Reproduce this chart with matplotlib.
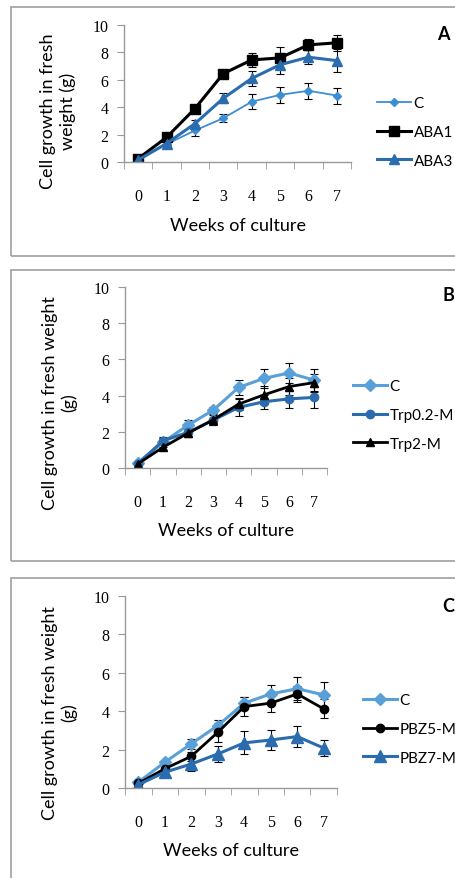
import numpy as np
import matplotlib
matplotlib.use("Agg")
import matplotlib.pyplot as plt
from matplotlib.patches import Rectangle

W, H = 456, 879

weeks = [0, 1, 2, 3, 4, 5, 6, 7]

# panel A
a_c = [0.15, 1.3, 2.3, 3.2, 4.4, 4.9, 5.2, 4.85]
a_c_err = [0.1, 0.15, 0.4, 0.27, 0.55, 0.58, 0.6, 0.58]
a_aba1 = [0.25, 1.8, 3.9, 6.45, 7.45, 7.6, 8.55, 8.7]
a_aba1_err = [0.1, 0.12, 0.2, 0.3, 0.5, 0.77, 0.4, 0.6]
a_aba3 = [0.15, 1.35, 2.8, 4.65, 6.1, 7.1, 7.65, 7.4]
a_aba3_err = [0.05, 0.12, 0.3, 0.37, 0.55, 0.7, 0.5, 0.85]

# panel B
b_c = [0.28, 1.42, 2.37, 3.2, 4.45, 4.95, 5.25, 4.85]
b_c_err = [0.05, 0.25, 0.3, 0.18, 0.42, 0.54, 0.55, 0.6]
b_trp02 = [0.22, 1.5, 1.97, 2.65, 3.35, 3.66, 3.82, 3.9]
b_trp02_err = [0.05, 0.2, 0.25, 0.3, 0.45, 0.4, 0.5, 0.6]
b_trp2 = [0.22, 1.14, 1.93, 2.67, 3.53, 4.04, 4.5, 4.72]
b_trp2_err = [0.05, 0.15, 0.2, 0.3, 0.35, 0.5, 0.45, 0.5]

# panel C
c_c = [0.3, 1.34, 2.3, 3.25, 4.42, 4.9, 5.17, 4.85]
c_c_err = [0.05, 0.1, 0.25, 0.3, 0.3, 0.47, 0.6, 0.65]
c_pbz5 = [0.24, 1.0, 1.65, 2.9, 4.24, 4.42, 4.9, 4.12]
c_pbz5_err = [0.05, 0.1, 0.25, 0.48, 0.5, 0.44, 0.4, 0.5]
c_pbz7 = [0.17, 0.82, 1.25, 1.77, 2.35, 2.5, 2.68, 2.08]
c_pbz7_err = [0.05, 0.1, 0.35, 0.4, 0.6, 0.5, 0.57, 0.4]

light = '#5aa0d8'
mid = '#3d8dd2'
dark = '#2a6cae'

fig = plt.figure(figsize=(W / 100, H / 100), dpi=100)


def px_axes(left, right, top, bottom):
    return fig.add_axes([left / W, 1 - bottom / H, (right - left) / W, (bottom - top) / H])


def frame(left, top, right, bottom):
    r = Rectangle((left / W, 1 - bottom / H), (right - left) / W, (bottom - top) / H,
                  transform=fig.transFigure, fill=False, edgecolor='#a0a0a0', lw=1.2)
    fig.patches.append(r)


def style_axes(ax):
    ax.set_xlim(-0.5, 7.5)
    ax.set_ylim(0, 10)
    for s in ['top', 'right']:
        ax.spines[s].set_visible(False)
    for s in ['left', 'bottom']:
        ax.spines[s].set_color('#999999')
        ax.spines[s].set_linewidth(1.0)
    ax.set_yticks([0, 2, 4, 6, 8, 10])
    ax.set_xticks(weeks)
    ax.set_xticks(np.arange(-0.5, 8, 1), minor=True)
    ax.tick_params(axis='x', which='major', length=0, pad=19,
                   labelsize=11.5, labelfontfamily='Liberation Serif')
    ax.tick_params(axis='x', which='minor', length=5, color='#999999', direction='out')
    ax.tick_params(axis='y', length=5, color='#999999', pad=6,
                   labelsize=11.5, labelfontfamily='Liberation Serif')


def series(ax, y, err, color, marker, ms, lw, label):
    ax.errorbar(weeks, y, yerr=err, color=color, marker=marker, ms=ms, lw=lw,
                ecolor='black', elinewidth=0.8, capsize=3, capthick=0.8, label=label)


label_font = dict(family='Lato', fontsize=13)
leg_font = dict(family='Lato', size=11)

# ---- panel A
frame(11, 8, 470, 257)
ax = px_axes(124, 351, 26, 163)
series(ax, a_c, a_c_err, mid, 'D', 4, 1.3, 'C')
series(ax, a_aba1, a_aba1_err, 'black', 's', 7, 2.2, 'ABA1')
series(ax, a_aba3, a_aba3_err, dark, '^', 7, 2.2, 'ABA3')
style_axes(ax)
fig.text(58 / W, 1 - 111 / H, 'Cell growth in fresh\nweight (g)', rotation=90,
         ha='center', va='center', linespacing=1.2, **label_font)
fig.text(238 / W, 1 - 226 / H, 'Weeks of culture', ha='center', va='center', **label_font)
fig.text(443 / W, 1 - 34 / H, 'A', ha='center', va='center', family='Lato',
         fontsize=13, fontweight='bold')
h, l = ax.get_legend_handles_labels()
h = [x[0] for x in h]
fig.legend(h, l, loc='center left', bbox_to_anchor=(377 / W, 1 - 133 / H), frameon=False,
           prop=leg_font, handlelength=2.2, handletextpad=0.2, labelspacing=0.95,
           borderpad=0, borderaxespad=0)

# ---- panel B
frame(11, 271, 470, 562)
ax = px_axes(125, 327, 288, 469)
series(ax, b_c, b_c_err, light, 'D', 6, 2.2, 'C')
series(ax, b_trp02, b_trp02_err, dark, 'o', 6, 2.2, 'Trp0.2-M')
series(ax, b_trp2, b_trp2_err, 'black', '^', 6, 2.0, 'Trp2-M')
style_axes(ax)
fig.text(60 / W, 1 - 403 / H, 'Cell growth in fresh weight\n(g)', rotation=90,
         ha='center', va='center', linespacing=1.2, **label_font)
fig.text(226 / W, 1 - 531 / H, 'Weeks of culture', ha='center', va='center', **label_font)
fig.text(448 / W, 1 - 296 / H, 'B', ha='center', va='center', family='Lato',
         fontsize=13, fontweight='bold')
h, l = ax.get_legend_handles_labels()
h = [x[0] for x in h]
fig.legend(h, l, loc='center left', bbox_to_anchor=(353 / W, 1 - 416 / H), frameon=False,
           prop=leg_font, handlelength=2.2, handletextpad=0.2, labelspacing=0.95,
           borderpad=0, borderaxespad=0)

# ---- panel C
frame(11, 579, 470, 900)
ax = px_axes(125, 337, 597, 789)
series(ax, c_c, c_c_err, light, 'D', 6, 2.2, 'C')
series(ax, c_pbz5, c_pbz5_err, 'black', 'o', 6, 2.0, 'PBZ5-M')
series(ax, c_pbz7, c_pbz7_err, dark, '^', 8, 2.2, 'PBZ7-M')
style_axes(ax)
fig.text(60 / W, 1 - 713 / H, 'Cell growth in fresh weight\n(g)', rotation=90,
         ha='center', va='center', linespacing=1.2, **label_font)
fig.text(231 / W, 1 - 851 / H, 'Weeks of culture', ha='center', va='center', **label_font)
fig.text(448 / W, 1 - 606 / H, 'C', ha='center', va='center', family='Lato',
         fontsize=13, fontweight='bold')
h, l = ax.get_legend_handles_labels()
h = [x[0] for x in h]
fig.legend(h, l, loc='center left', bbox_to_anchor=(363 / W, 1 - 730 / H), frameon=False,
           prop=leg_font, handlelength=2.2, handletextpad=0.2, labelspacing=0.95,
           borderpad=0, borderaxespad=0)

fig.savefig('out.png', dpi=100)
